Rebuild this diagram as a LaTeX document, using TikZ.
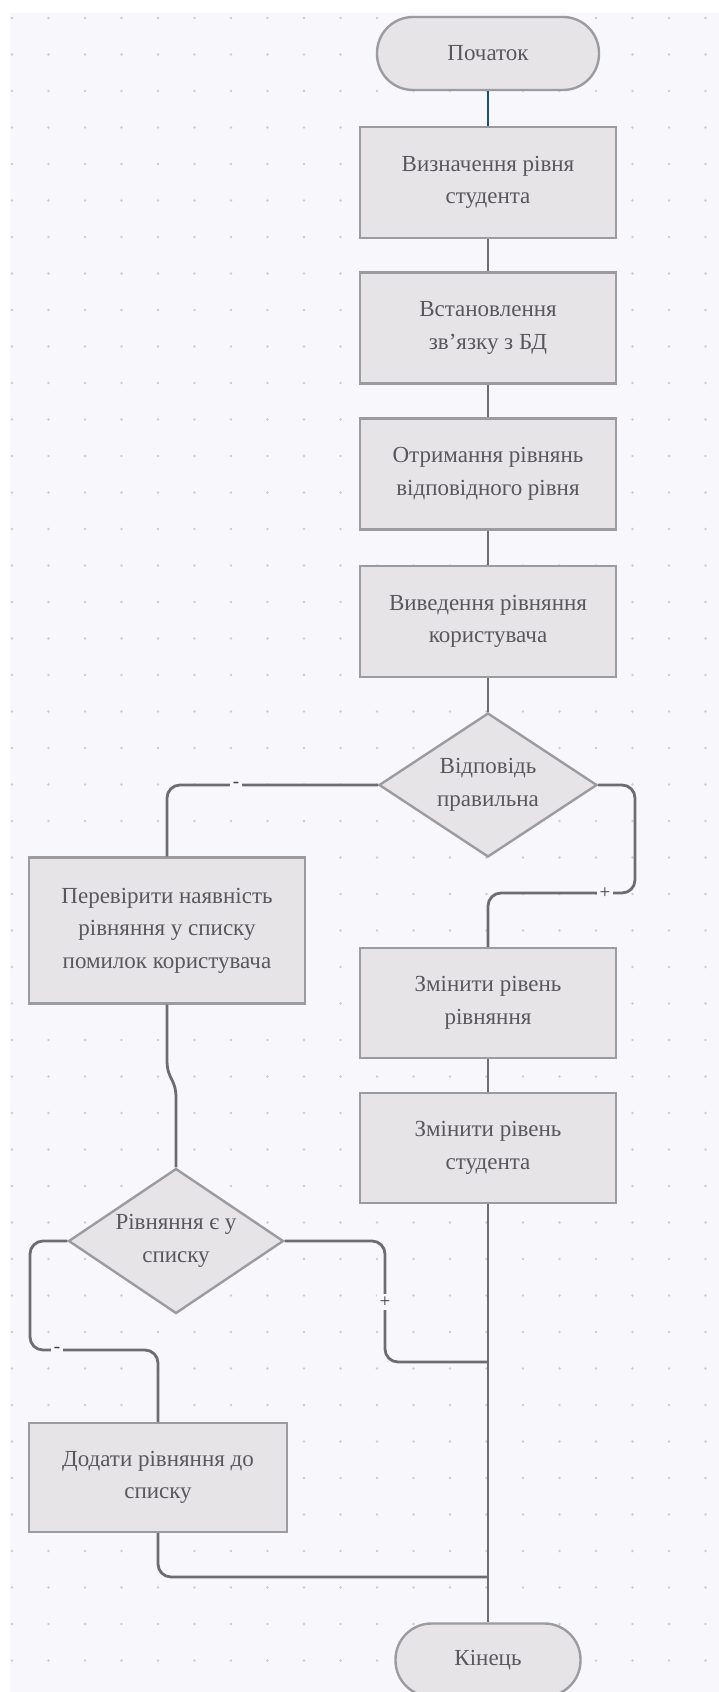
\documentclass[tikz,border=0pt]{standalone}
\usepackage{fontspec}
\setmainfont{Liberation Serif}
\usetikzlibrary{shapes.geometric}
\definecolor{bgc}{RGB}{248,248,252}
\definecolor{dotc}{RGB}{204,204,212}
\definecolor{nodefill}{RGB}{231,228,232}
\definecolor{nodeline}{RGB}{155,155,160}
\definecolor{txtc}{RGB}{88,88,92}
\definecolor{lblc}{RGB}{60,60,64}
\definecolor{connc}{RGB}{108,108,114}
\definecolor{bluec}{RGB}{28,80,112}
\tikzset{
  base/.style={draw=nodeline, fill=nodefill, line width=2.4pt, text=txtc, align=center,
    font=\fontsize{23}{32.5}\selectfont, inner sep=0pt},
  procbox/.style={base, rectangle, minimum width=256pt, minimum height=111pt},
  termbox/.style={base, rectangle, rounded corners=36pt, minimum width=222pt, minimum height=73pt},
  decbox/.style={base, diamond, aspect=1.5, inner sep=-25pt, minimum width=218pt, minimum height=144pt},
  conn/.style={draw=connc, line width=2.8pt, rounded corners=13pt},
  lbl/.style={fill=bgc, text=lblc, inner sep=2.5pt, font=\fontsize{19}{19}\selectfont}
}
\begin{document}
\begin{tikzpicture}[x=1pt,y=-1pt]
\fill[white] (0,0) rectangle (719,1692);
\useasboundingbox (0,0) rectangle (719,1692);
\fill[bgc] (10,13) rectangle (719,1692);
\foreach \i in {0,...,19}{
  \foreach \j in {0,...,45}{
    \fill[dotc] ({12+36.5*\i},{18+36.5*\j}) circle (1.3);
  }
}
% nodes
\node[termbox] (start) at (488,53.5) {Початок};
\node[procbox] (b1) at (488,182.5) {Визначення рівня\\студента};
\node[procbox] (b2) at (488,328) {Встановлення\\зв'язку з БД};
\node[procbox] (b3) at (488,474) {Отримання рівнянь\\відповідного рівня};
\node[procbox] (b4) at (488,621.5) {Виведення рівняння\\користувача};
\node[decbox] (d1) at (488,785) {Відповідь\\правильна};
\node[procbox, minimum width=276pt, minimum height=146pt] (pv) at (167,930.5) {Перевірити наявність\\рівняння у списку\\помилок користувача};
\node[procbox, minimum height=110pt] (z1) at (488,1003) {Змінити рівень\\рівняння};
\node[procbox, minimum height=110pt] (z2) at (488,1148) {Змінити рівень\\студента};
\node[decbox, minimum width=215pt, minimum height=145pt] (d2) at (176,1241) {Рівняння є у\\списку};
\node[procbox, minimum width=258pt, minimum height=109pt] (add) at (158,1477.5) {Додати рівняння до\\списку};
\node[termbox, minimum width=185pt] (end) at (488,1660) {Кінець};
\coordinate (j1) at (488,1362);
\coordinate (j2) at (488,1577);
% connectors
\draw[draw=bluec, line width=2.8pt] (start.south) -- (b1.north);
\draw[conn] (b1.south) -- (b2.north);
\draw[conn] (b2.south) -- (b3.north);
\draw[conn] (b3.south) -- (b4.north);
\draw[conn] (b4.south) -- (d1.north);
\draw[conn] (d1.west) -| (pv.north);
\draw[conn] (d1.east) -| (635,893) -| (z1.north);
\draw[conn] (z1.south) -- (z2.north);
\draw[conn] (z2.south) -- (end.north);
\draw[conn, rounded corners=0pt] (pv.south) -- (167,1060) .. controls (167,1080) and (176,1078) .. (176,1098) -- (d2.north);
\draw[conn] (d2.east) -| (385,1362) -- (j1);
\draw[conn] (d2.west) -| (30,1350) -| (add.north);
\draw[conn] (add.south) |- (j2);
% labels
\node[lbl] (m1) at (236,785) {-};
\node[lbl] (p1) at (605,893) {+};
\node[lbl] (p2) at (385,1302) {+};
\node[lbl] (m2) at (57,1350) {-};
\end{tikzpicture}
\end{document}
